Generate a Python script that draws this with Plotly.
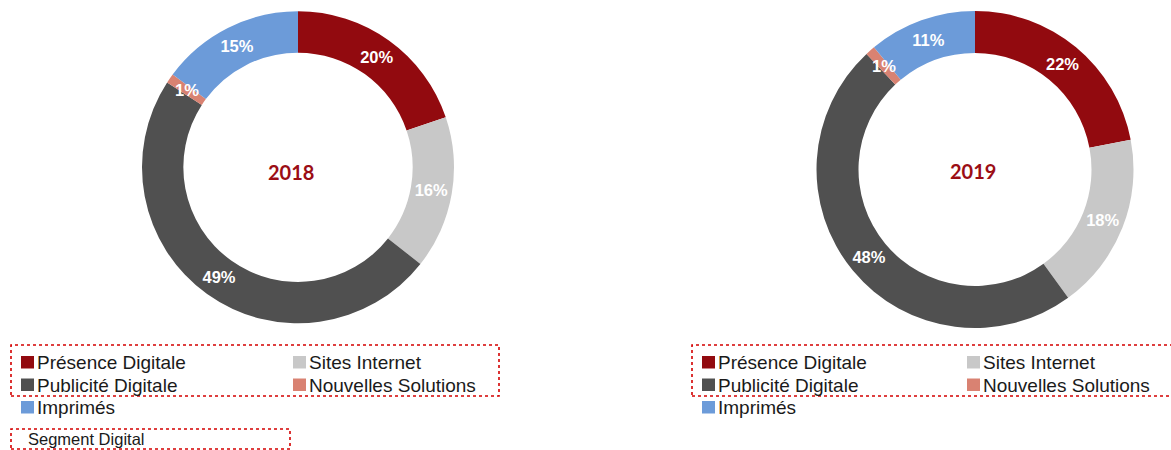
import math
import plotly.graph_objects as go

# ---- data ----
categories = ["Présence Digitale", "Sites Internet", "Publicité Digitale",
              "Nouvelles Solutions", "Imprimés"]
values_2018 = [20, 16, 49, 1, 15]
values_2019 = [22, 18, 48, 1, 11]
years = ["2018", "2019"]
colors = ["#920A0F", "#C8C8C8", "#505050", "#D98272", "#6C9BD9"]
segment_label = "Segment Digital"

W, H = 1171, 450
HOLE = 0.735
SMALL = 2  # slices below this share get their label as an overlay annotation


def px(x):
    return x / W


def py(y):
    return 1 - y / H


def domain(cx, cy, r):
    return dict(x=[px(cx - r), px(cx + r)], y=[py(cy + r), py(cy - r)])


fig = go.Figure()
annotations = []
shapes = []

label_font = dict(family="Liberation Sans, Arial", size=16.5, color="white", weight="bold")

pies = [
    (values_2018, (298, 167.3, 156)),
    (values_2019, (975, 169.5, 158.5)),
]
for vals, (cx, cy, r) in pies:
    texts = [f"{v}%" if v >= SMALL else "" for v in vals]
    fig.add_trace(go.Pie(
        labels=categories, values=vals, text=texts,
        textinfo="text", textposition="inside", insidetextorientation="horizontal",
        textfont=label_font,
        marker=dict(colors=colors, line=dict(width=0)),
        hole=HOLE, sort=False, direction="clockwise", rotation=0,
        domain=domain(cx, cy, r), showlegend=False, hoverinfo="label+percent",
    ))
    # labels for very thin slices, placed on the ring mid-line at the slice bisector
    total = sum(vals)
    cum = 0
    rmid = r * (1 + HOLE) / 2
    for v in vals:
        if v < SMALL:
            th = 2 * math.pi * (cum + v / 2) / total
            annotations.append(dict(
                text=f"<b>{v}%</b>", x=px(cx + rmid * math.sin(th)),
                y=py(cy - rmid * math.cos(th)), xref="paper", yref="paper",
                showarrow=False, xanchor="center", yanchor="middle", font=label_font))
        cum += v

# centre year labels
for yr, (cx, cy) in zip(years, [(291, 172), (973, 171)]):
    annotations.append(dict(
        text=f"<b>{yr}</b>", x=px(cx), y=py(cy), xref="paper", yref="paper",
        showarrow=False, xanchor="center", yanchor="middle",
        font=dict(family="Lato, Liberation Sans", size=20, color="#9B0D15")))

# legends (two columns, three rows)
legend_origins = [(21, 362, 272), (702, 362, 265)]
row_gap = 22.5
grid = [(0, 0), (1, 0), (0, 1), (1, 1), (0, 2)]
for ox, oy, colw in legend_origins:
    for name, col, (c, rr) in zip(categories, colors, grid):
        x0 = ox + c * colw
        yc = oy + rr * row_gap
        shapes.append(dict(type="rect", xref="paper", yref="paper",
                           x0=px(x0), x1=px(x0 + 13), y0=py(yc + 6.5), y1=py(yc - 6),
                           fillcolor=col, line=dict(width=0)))
        annotations.append(dict(
            text=name, x=px(x0 + 14), y=py(yc + 0.5), xref="paper", yref="paper",
            showarrow=False, xanchor="left", yanchor="middle",
            font=dict(family="Liberation Sans, Arial", size=19, color="#1A1A1A")))

# dotted boxes
box_style = dict(color="#D40000", width=1.6, dash="dot")
for x0, y0, x1, y1 in [(11, 345, 499, 396), (692, 345, 1180, 396), (11, 429, 290, 449)]:
    shapes.append(dict(type="rect", xref="paper", yref="paper",
                       x0=px(x0), x1=px(x1), y0=py(y1), y1=py(y0),
                       line=box_style, fillcolor="rgba(0,0,0,0)"))

annotations.append(dict(
    text=segment_label, x=px(26), y=py(439), xref="paper", yref="paper",
    showarrow=False, xanchor="left", yanchor="middle",
    font=dict(family="Liberation Sans, Arial", size=16.5, color="#1A1A1A")))

fig.update_layout(
    width=W, height=H, margin=dict(l=0, r=0, t=0, b=0),
    paper_bgcolor="white", plot_bgcolor="white",
    annotations=annotations, shapes=shapes,
    uniformtext=dict(minsize=16.5, mode="show"),
)

fig.write_html("out.html", config={"displayModeBar": False},
               post_script="document.body.style.margin='0';document.body.style.overflow='hidden';")
